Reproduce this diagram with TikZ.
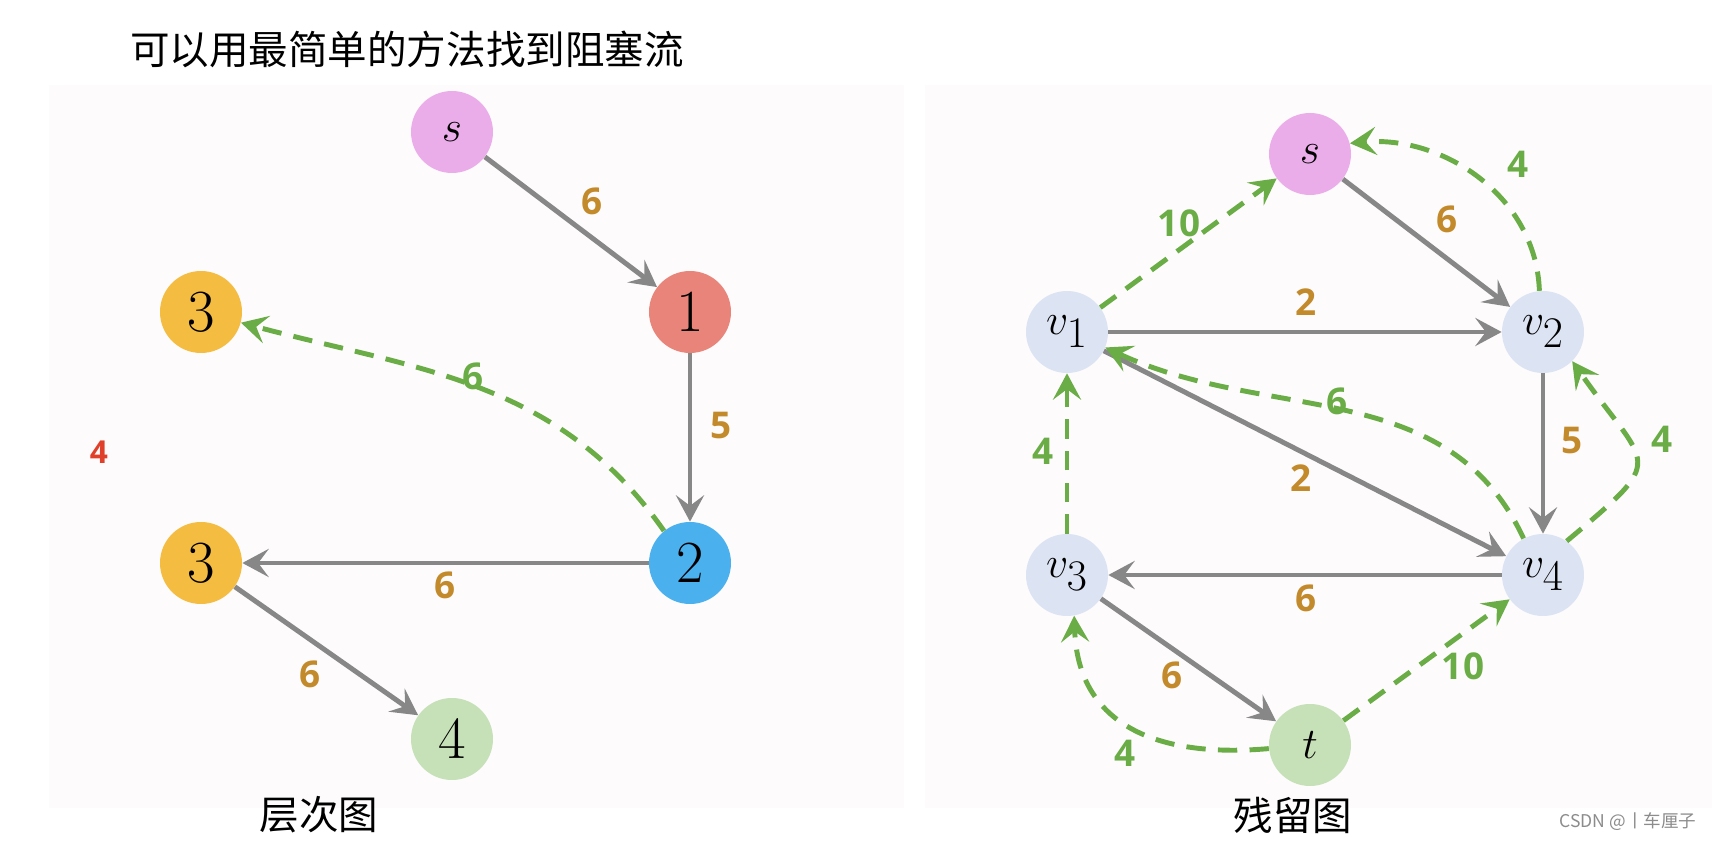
\documentclass[tikz,border=0pt]{standalone}
\usepackage{fontspec}
\newfontfamily\cjk{Noto Sans CJK SC}
\newfontfamily\labfont{Open Sans}
\usetikzlibrary{arrows.meta}
\definecolor{pinkc}{HTML}{EBADE9}
\definecolor{redc}{HTML}{E88479}
\definecolor{orangec}{HTML}{F4BC41}
\definecolor{bluec}{HTML}{4AB0EE}
\definecolor{greenc}{HTML}{C6E0B8}
\definecolor{vc}{HTML}{DCE3F2}
\definecolor{edgegray}{HTML}{878787}
\definecolor{resgreen}{HTML}{6AAC45}
\definecolor{capcol}{HTML}{C38A2B}
\definecolor{mark4}{HTML}{E0402A}
\definecolor{panel}{HTML}{FDFBFC}
\begin{document}
\begin{tikzpicture}[x=0.02cm,y=0.02cm,
  vert/.style={circle,minimum size=1.64cm,inner sep=0pt,font=\fontsize{34}{34}\selectfont},
  flow/.style={draw=edgegray,line width=2.8pt,-{Stealth[length=15pt,width=16pt,inset=6pt]}},
  resid/.style={draw=resgreen,line width=2.8pt,dash pattern=on 11pt off 7pt,-{Stealth[length=15pt,width=16pt,inset=6pt]}},
  wlab/.style={font=\labfont\bfseries\fontsize{21}{21}\selectfont,text=capcol,inner sep=0pt},
  glab/.style={font=\labfont\bfseries\fontsize{21}{21}\selectfont,text=resgreen,inner sep=0pt},
  cjktext/.style={font=\cjk\fontsize{22.5}{22.5}\selectfont,inner sep=0pt}
]
\useasboundingbox (0,0) rectangle (1712,842);
\fill[white] (0,0) rectangle (1712,842);
\fill[panel] (49,34) rectangle (904,757);
\fill[panel] (925,34) rectangle (1712,757);

% title
\node[cjktext] (title) at (407,793) {可以用最简单的方法找到阻塞流};

% left: level graph
\node[vert,fill=pinkc] (ls) at (452,710) {$s$};
\node[vert,fill=redc] (l1) at (690,530) {1};
\node[vert,fill=orangec] (l3a) at (201,530) {3};
\node[vert,fill=bluec] (l2) at (690,279) {2};
\node[vert,fill=orangec] (l3b) at (201,279) {3};
\node[vert,fill=greenc] (l4) at (452,103) {4};
\node[font=\labfont\bfseries\fontsize{18}{18}\selectfont,text=mark4] (red4) at (99,390) {4};

\draw[flow] (ls) -- (l1);
\draw[flow] (l1) -- (l2);
\draw[flow] (l2) -- (l3b);
\draw[flow] (l3b) -- (l4);
\draw[resid] (l2.129) to[out=125,in=-15] (l3a.-15);

\node[wlab] (lc1) at (592,641) {6};
\node[wlab] (lc2) at (721,416) {5};
\node[wlab] (lc3) at (445,257) {6};
\node[wlab] (lc4) at (310,168) {6};
\node[glab] (lg1) at (473,466) {6};

\node[cjktext] (lcap) at (319,27) {层次图};

% right: residual graph
\node[vert,fill=pinkc] (rs) at (1310,688) {$s$};
\node[vert,fill=vc] (v1) at (1067,510) {$v_1$};
\node[vert,fill=vc] (v2) at (1543,510) {$v_2$};
\node[vert,fill=vc] (v3) at (1067,267) {$v_3$};
\node[vert,fill=vc] (v4) at (1543,267) {$v_4$};
\node[vert,fill=greenc] (rt) at (1310,97) {$t$};

\draw[flow] (rs) -- (v2);
\draw[flow] (v1) -- (v2);
\draw[flow] (v1) -- (v4);
\draw[flow] (v2) -- (v4);
\draw[flow] (v4) -- (v3);
\draw[flow] (v3) -- (rt);

\draw[resid] (v1) -- (rs);
\draw[resid] (v2.95) to[out=92,in=5] (rs.15);
\draw[resid] (v4.118) to[out=115,in=-25] (v1.-22);
\draw[resid] (v4.55) to[out=40,in=-55,looseness=1.9] (v2.-45);
\draw[resid] (v3) -- (v1);
\draw[resid] (rt.185) to[out=185,in=-88,looseness=1.2] (v3.-80);
\draw[resid] (rt) -- (v4);

\node[glab] (g10a) at (1179,619) {10};
\node[wlab] (c6a) at (1447,623) {6};
\node[glab] (g4a) at (1518,678) {4};
\node[wlab] (c2a) at (1306,540) {2};
\node[glab] (g6) at (1337,441) {6};
\node[wlab] (c5) at (1572,401) {5};
\node[glab] (g4b) at (1662,403) {4};
\node[wlab] (c2b) at (1301,364) {2};
\node[glab] (g4c) at (1043,391) {4};
\node[wlab] (c6b) at (1306,244) {6};
\node[wlab] (c6c) at (1172,167) {6};
\node[glab] (g10b) at (1463,176) {10};
\node[glab] (g4d) at (1125,89) {4};

\node[cjktext] (rcap) at (1293,27) {残留图};
\node[font=\cjk\fontsize{10}{10}\selectfont,text=black!45,inner sep=0pt] (wm) at (1628,20) {CSDN @丨车厘子};
\end{tikzpicture}
\end{document}
